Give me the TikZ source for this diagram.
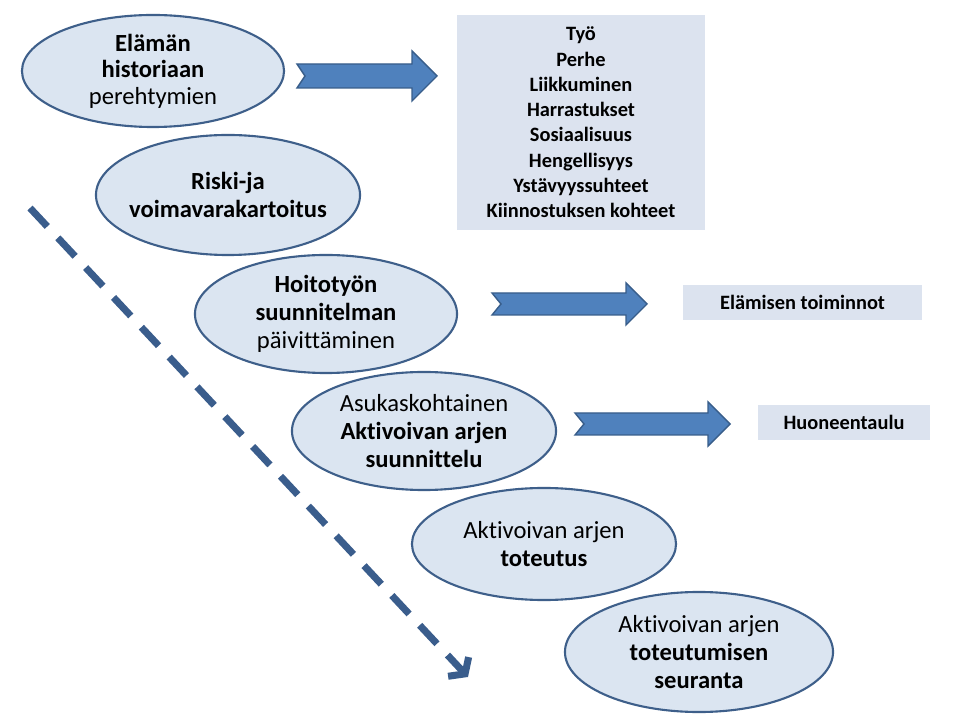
\documentclass[tikz,border=0pt]{standalone}
\usepackage{fontspec}
\setmainfont{Carlito}[Ligatures=NoCommon]
\usepackage{xcolor}
\usetikzlibrary{shapes.geometric}
\usetikzlibrary{arrows.meta}

\definecolor{bubblefill}{HTML}{DBE5F1}
\definecolor{bubbleline}{HTML}{3E5F8A}
\definecolor{boxfill}{HTML}{DCE3EF}
\definecolor{arrowfill}{HTML}{4F81BD}
\definecolor{arrowline}{HTML}{385D8A}
\definecolor{dashblue}{HTML}{3A5D8C}

\tikzset{
	bubble/.style={ellipse,draw=bubbleline,fill=bubblefill,line width=1.5pt,inner sep=0pt},
	bubbletext/.style={align=center,inner sep=0pt,font=\fontsize{17.5}{20}\selectfont},
	infobox/.style={rectangle,fill=boxfill,inner sep=0pt,align=center,font=\bfseries\fontsize{14.5}{18}\selectfont},
	blockarrow/.style={fill=arrowfill,draw=arrowline,line width=1pt,line join=miter},
	flowline/.style={draw=dashblue,line width=5pt,dash pattern=on 18pt off 11pt,-{Straight Barb[length=7pt,width=20pt]}}
}

\begin{document}
\begin{tikzpicture}[x=0.025cm,y=-0.025cm]
	\useasboundingbox (0,0) rectangle (960,720);
	
	% process steps
	\node[bubble,minimum width=6.55cm,minimum height=2.8cm,label={[bubbletext,font=\fontsize{17.5}{18.8}\selectfont]center:{\textbf{Elämän}\\\textbf{historiaan}\\perehtymien}}] (hist) at (153,71) {};
	\node[bubble,minimum width=6.6cm,minimum height=3cm,label={[bubbletext]center:{\textbf{Riski-ja}\\\textbf{voimavarakartoitus}}}] (riski) at (228,195) {};
	\node[bubble,minimum width=6.55cm,minimum height=2.95cm,label={[bubbletext]center:{\textbf{Hoitotyön}\\\textbf{suunnitelman}\\päivittäminen}}] (hoito) at (326,314) {};
	\node[bubble,minimum width=6.6cm,minimum height=2.95cm,label={[bubbletext]center:{Asukaskohtainen\\\textbf{Aktivoivan arjen}\\\textbf{suunnittelu}}}] (suunn) at (424,431) {};
	\node[bubble,minimum width=6.6cm,minimum height=2.8cm,label={[bubbletext]center:{Aktivoivan arjen\\\textbf{toteutus}}}] (toteutus) at (544,544) {};
	\node[bubble,minimum width=6.7cm,minimum height=3cm,label={[bubbletext]center:{Aktivoivan arjen\\\textbf{toteutumisen}\\\textbf{seuranta}}}] (seuranta) at (699,652) {};
	
	% info boxes
	\node[infobox,minimum width=6.2cm,minimum height=5.375cm] (alueet) at (581,122.5) {Työ\\Perhe\\Liikkuminen\\Harrastukset\\Sosiaalisuus\\Hengellisyys\\Ystävyyssuhteet\\Kiinnostuksen kohteet};
	\node[infobox,minimum width=5.975cm,minimum height=0.875cm] (toiminnot) at (802.5,302.5) {Elämisen toiminnot};
	\node[infobox,minimum width=4.3cm,minimum height=0.875cm] (taulu) at (844,422.5) {Huoneentaulu};
	
	% block arrows
	\foreach \xa/\xb/\yc/\hs/\hh/\nt in {297/437/76/12/25/8, 492/647/304/11/21/9, 575/730/424/11/22/9}
		\draw[blockarrow] (\xa,\yc-\hs) -- (\xb-\hh,\yc-\hs) -- (\xb-\hh,\yc-\hh) -- (\xb,\yc) -- (\xb-\hh,\yc+\hh) -- (\xb-\hh,\yc+\hs) -- (\xa,\yc+\hs) -- (\xa+\nt,\yc) -- cycle;
	
	% time line
	\coordinate (flowstart) at (30,208);
	\coordinate (flowend) at (468,677);
	\draw[flowline] (flowstart) -- (flowend);
	
\end{tikzpicture}
\end{document}
